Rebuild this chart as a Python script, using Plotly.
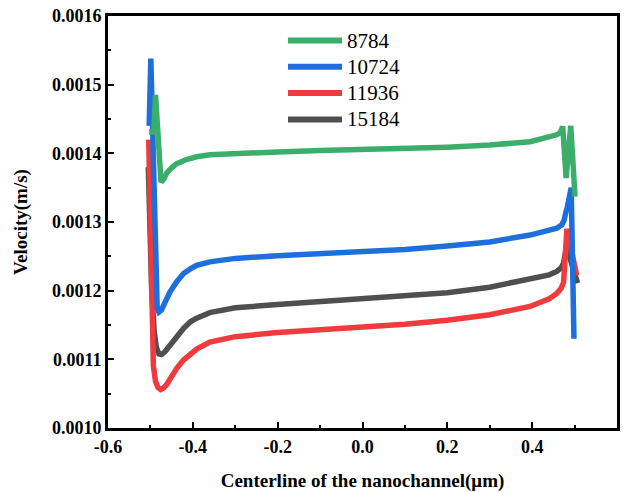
import plotly.graph_objects as go

# ---- data ----
series_names = ["8784", "10724", "11936", "15184"]

x_8784 = [-0.503, -0.492, -0.488, -0.475, -0.468, -0.462, -0.450, -0.438, -0.415, -0.391, -0.36, -0.3,
          -0.2, -0.1, 0.0, 0.1, 0.2, 0.3, 0.395, 0.458, 0.466, 0.472, 0.480, 0.491, 0.501]
v_8784 = [0.001431, 0.001431, 0.001485, 0.001358, 0.001363, 0.001371, 0.001379, 0.001385, 0.001391,
          0.001395, 0.001398, 0.001400, 0.001402, 0.001404, 0.001405, 0.001407, 0.001409, 0.001412,
          0.001417, 0.001427, 0.001430, 0.001439, 0.001364, 0.001440, 0.001337]

x_10724 = [-0.503, -0.499, -0.484, -0.480, -0.474, -0.465, -0.454, -0.438, -0.422, -0.405, -0.391,
           -0.36, -0.3, -0.2, -0.1, 0.0, 0.1, 0.2, 0.3, 0.395, 0.440, 0.458, 0.470, 0.475, 0.479,
           0.483, 0.492, 0.4985]
v_10724 = [0.001440, 0.001538, 0.001175, 0.001169, 0.001172, 0.001183, 0.001198, 0.001213, 0.001225,
           0.001232, 0.001237, 0.001242, 0.001247, 0.001251, 0.001254, 0.001257, 0.001260, 0.001265,
           0.001271, 0.001281, 0.001287, 0.001291, 0.001296, 0.001302, 0.001313, 0.001322, 0.001350,
           0.001130]

x_11936 = [-0.504, -0.497, -0.493, -0.488, -0.482, -0.476, -0.470, -0.462, -0.454, -0.438, -0.422,
           -0.405, -0.391, -0.36, -0.3, -0.2, -0.1, 0.0, 0.1, 0.2, 0.3, 0.395, 0.440, 0.458, 0.468,
           0.474, 0.478, 0.482, 0.505]
v_11936 = [0.001420, 0.001150, 0.001090, 0.001068, 0.001059, 0.001056, 0.001058, 0.001063, 0.001072,
           0.001087, 0.001099, 0.001109, 0.001115, 0.001125, 0.001133, 0.001139, 0.001143, 0.001147,
           0.001151, 0.001157, 0.001165, 0.001177, 0.001188, 0.001196, 0.001203, 0.001212, 0.001240,
           0.001290, 0.001222]

x_15184 = [-0.505, -0.497, -0.491, -0.486, -0.480, -0.474, -0.466, -0.454, -0.438, -0.422, -0.405,
           -0.391, -0.36, -0.3, -0.2, -0.1, 0.0, 0.1, 0.2, 0.3, 0.395, 0.440, 0.458, 0.468, 0.474,
           0.478, 0.481, 0.507]
v_15184 = [0.001380, 0.001200, 0.001140, 0.001117, 0.001108, 0.001107, 0.001111, 0.001121, 0.001134,
           0.001145, 0.001155, 0.001160, 0.001168, 0.001175, 0.001180, 0.001184, 0.001187, 0.001191,
           0.001197, 0.001205, 0.001216, 0.001223, 0.001228, 0.001233, 0.001240, 0.001258, 0.001264,
           0.001211]

x_tickvals = [-0.6, -0.4, -0.2, 0.0, 0.2, 0.4, 0.6]
x_ticktext = ["-0.6", "-0.4", "-0.2", "0.0", "0.2", "0.4", "0.6"]
y_tickvals = [0.0010, 0.0011, 0.0012, 0.0013, 0.0014, 0.0015, 0.0016]
y_ticktext = ["0.0010", "0.0011", "0.0012", "0.0013", "0.0014", "0.0015", "0.0016"]

colors = {"8784": "#3BAE6B", "10724": "#1E6FDC", "11936": "#EF3B3E", "15184": "#4F4F4F"}

FONT = "Liberation Serif"

fig = go.Figure()
# draw order: gray, red, blue, green (green on top)
for name, xs, vs in [("15184", x_15184, v_15184), ("11936", x_11936, v_11936),
                     ("10724", x_10724, v_10724), ("8784", x_8784, v_8784)]:
    fig.add_trace(go.Scatter(x=xs, y=vs, mode="lines", name=name, showlegend=False,
                             line=dict(color=colors[name], width=5.5, shape="linear")))

# custom legend (sample line + label) in paper coordinates, top-to-bottom order
L_PLOT, R_PLOT, T_PLOT, B_PLOT = 108, 617, 16, 428
def px_to_paper(px, py):
    return (px - L_PLOT) / (R_PLOT - L_PLOT), (B_PLOT - py) / (B_PLOT - T_PLOT)

legend_row0_y, legend_row_gap = 40.5, 26.3
for i, name in enumerate(series_names):
    py = legend_row0_y + i * legend_row_gap
    x0, y0 = px_to_paper(288, py)
    x1, _ = px_to_paper(342, py)
    fig.add_shape(type="line", xref="paper", yref="paper", x0=x0, x1=x1, y0=y0, y1=y0,
                  line=dict(color=colors[name], width=6))
    tx, _ = px_to_paper(345, py)
    fig.add_annotation(xref="paper", yref="paper", x=tx, y=y0, text=name, showarrow=False,
                       xanchor="left", yanchor="middle",
                       font=dict(family=FONT, size=21, color="black"))

axis_common = dict(showline=True, linewidth=3, linecolor="black", mirror=True,
                   ticks="inside", ticklen=6, tickwidth=2, tickcolor="black",
                   showgrid=False, zeroline=False, automargin=False,
                   tickfont=dict(family=FONT, size=18, color="black", weight="bold"))

fig.update_xaxes(range=[-0.6, 0.6], tickmode="array", tickvals=x_tickvals, ticktext=x_ticktext,
                 minor=dict(ticks="inside", ticklen=3, tickwidth=2, tickcolor="black", dtick=0.1, tick0=0),
                 title=dict(text="Centerline of the nanochannel(μm)",
                            font=dict(family=FONT, size=19, color="black", weight="bold"), standoff=22),
                 **axis_common)
fig.update_yaxes(range=[0.0010, 0.0016], tickmode="array", tickvals=y_tickvals, ticktext=y_ticktext,
                 minor=dict(ticks="inside", ticklen=3, tickwidth=2, tickcolor="black", dtick=0.00005, tick0=0.001),
                 title=dict(text="Velocity(m/s)",
                            font=dict(family=FONT, size=19, color="black", weight="bold"), standoff=20),
                 **axis_common)

fig.update_layout(
    width=627, height=492,
    margin=dict(l=L_PLOT, r=627 - R_PLOT, t=T_PLOT, b=492 - B_PLOT, autoexpand=False),
    plot_bgcolor="white", paper_bgcolor="white",
    showlegend=False,
)

fig.write_html("out.html")
